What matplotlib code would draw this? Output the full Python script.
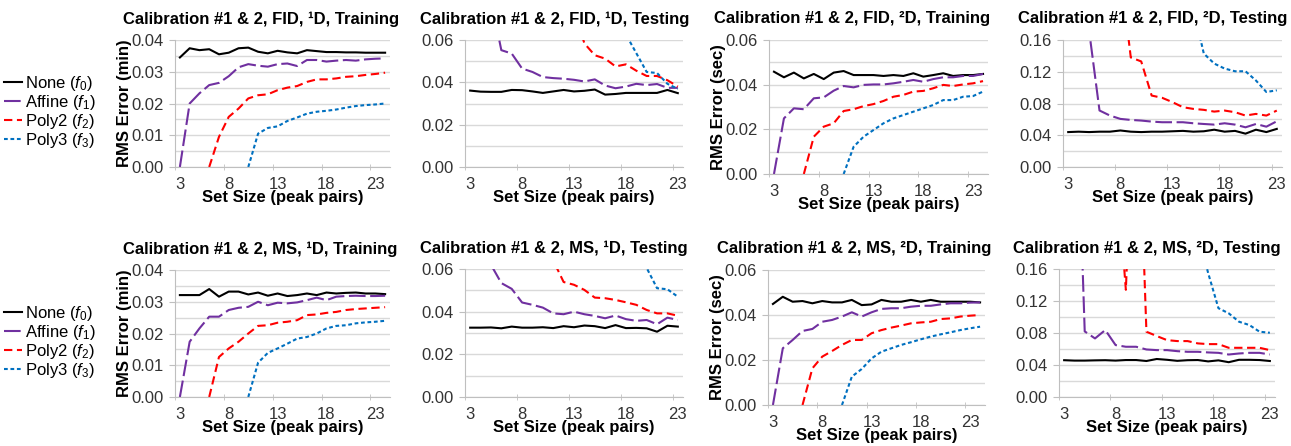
import numpy as np
import matplotlib
matplotlib.use('Agg')
import matplotlib.pyplot as plt
from matplotlib.lines import Line2D

plt.rcParams['font.family'] = ['Liberation Sans', 'DejaVu Sans']
plt.rcParams['mathtext.fontset'] = 'custom'
plt.rcParams['mathtext.rm'] = 'Liberation Sans'
plt.rcParams['mathtext.it'] = 'Liberation Sans:italic'
plt.rcParams['mathtext.bf'] = 'Liberation Sans:bold'

nan = np.nan

# set sizes (peak pairs)
x_train = list(range(3, 25))
x_test = list(range(3, 24))

# FID, 1D, training
fid1_train_none = [0.0345, 0.0374, 0.0368, 0.0371, 0.0355, 0.0360, 0.0374, 0.0376, 0.0363, 0.0358, 0.0366,
                   0.0361, 0.0358, 0.0368, 0.0365, 0.0362, 0.0362, 0.0361, 0.0361, 0.0360, 0.0360, 0.0360]
fid1_train_affine = [0.0, 0.0200, 0.0232, 0.0258, 0.0265, 0.0286, 0.0314, 0.0324, 0.0319, 0.0316, 0.0324,
                     0.0326, 0.0318, 0.0337, 0.0337, 0.0332, 0.0335, 0.0337, 0.0335, 0.0339, 0.0341, 0.0342]
fid1_train_poly2 = [nan, nan, nan, 0.0, 0.0095, 0.0158, 0.0184, 0.0216, 0.0226, 0.0229, 0.0242,
                    0.0250, 0.0255, 0.0268, 0.0276, 0.0276, 0.0279, 0.0284, 0.0286, 0.0290, 0.0293, 0.0297]
fid1_train_poly3 = [nan] * 7 + [0.0, 0.0105, 0.0123, 0.0128, 0.0145, 0.0156, 0.0168, 0.0174, 0.0177,
                                0.0181, 0.0187, 0.0192, 0.0195, 0.0197, 0.0200]

# FID, 1D, testing
fid1_test_none = [0.0361, 0.0356, 0.0355, 0.0355, 0.0364, 0.0363, 0.0357, 0.0350, 0.0357, 0.0364, 0.0357,
                  0.0360, 0.0366, 0.0342, 0.0345, 0.0350, 0.0350, 0.0350, 0.0350, 0.0364, 0.0349]
fid1_test_affine = [0.16, 0.11, 0.079, 0.0552, 0.0536, 0.0465, 0.0449, 0.0425, 0.0420, 0.0417, 0.0412,
                    0.0404, 0.0414, 0.0385, 0.0372, 0.0380, 0.0393, 0.0387, 0.0392, 0.0374, 0.0374]
fid1_test_poly2 = [nan, nan, nan, 0.3, 0.2, 0.15, 0.12, 0.10, 0.09, 0.082, 0.0744, 0.0584, 0.0528,
                   0.0512, 0.0475, 0.0485, 0.0455, 0.043, 0.043, 0.041, 0.038]
fid1_test_poly3 = [nan] * 7 + [0.4, 0.3, 0.22, 0.17, 0.13, 0.11, 0.09, 0.08, 0.0626, 0.0538, 0.0449,
                               0.0444, 0.0393, 0.0369]

# FID, 2D, training
fid2_train_none = [0.0458, 0.0433, 0.0454, 0.0428, 0.0448, 0.0425, 0.0454, 0.0461, 0.0443, 0.0443, 0.0443,
                   0.0439, 0.0443, 0.0439, 0.0451, 0.0436, 0.0443, 0.0451, 0.0439, 0.0443, 0.0443, 0.0448]
fid2_train_affine = [0.0, 0.0249, 0.0294, 0.0290, 0.0339, 0.0343, 0.0373, 0.0394, 0.0388, 0.0399, 0.0401,
                     0.0401, 0.0406, 0.0413, 0.0421, 0.0413, 0.0425, 0.0433, 0.0433, 0.0439, 0.0439, 0.0448]
fid2_train_poly2 = [nan, nan, nan, 0.0, 0.0167, 0.0212, 0.0227, 0.0282, 0.0290, 0.0304, 0.0313,
                    0.0327, 0.0346, 0.0354, 0.0369, 0.0372, 0.0384, 0.0399, 0.0394, 0.0401, 0.0406, 0.0416]
fid2_train_poly3 = [nan] * 7 + [0.0, 0.0122, 0.0167, 0.0197, 0.0227, 0.0249, 0.0264, 0.0279, 0.0294,
                                0.0309, 0.0331, 0.0331, 0.0346, 0.0349, 0.0369]

# FID, 2D, testing
fid2_test_none = [0.044, 0.0445, 0.044, 0.0445, 0.0445, 0.046, 0.0445, 0.044, 0.0445, 0.0445, 0.045,
                  0.0455, 0.0445, 0.045, 0.047, 0.0445, 0.0455, 0.042, 0.047, 0.044, 0.048]
fid2_test_affine = [0.5, 0.3, 0.172, 0.0712, 0.0648, 0.0606, 0.0593, 0.0585, 0.0572, 0.0564, 0.0564,
                    0.0564, 0.0551, 0.0542, 0.0534, 0.0551, 0.0534, 0.0500, 0.0542, 0.0508, 0.0576]
fid2_test_poly2 = [nan, nan, nan, 0.5, 0.35, 0.248, 0.138, 0.133, 0.090, 0.0872, 0.0817, 0.0753,
                   0.0732, 0.0720, 0.0698, 0.0711, 0.0690, 0.0648, 0.0669, 0.0648, 0.0711]
fid2_test_poly3 = [nan] * 7 + [0.6, 0.5, 0.4, 0.33, 0.28, 0.2, 0.143, 0.1303, 0.124, 0.1206, 0.1206,
                               0.109, 0.0945, 0.0966]

# MS, 1D, training
ms1_train_none = [0.0321, 0.0321, 0.0321, 0.0340, 0.0316, 0.0332, 0.0332, 0.0323, 0.0329, 0.0319, 0.0326,
                  0.0318, 0.0321, 0.0326, 0.0321, 0.0329, 0.0326, 0.0328, 0.0329, 0.0326, 0.0326, 0.0324]
ms1_train_affine = [0.0, 0.0174, 0.0216, 0.0253, 0.0253, 0.0274, 0.0281, 0.0284, 0.0300, 0.0289, 0.0297,
                    0.0295, 0.0298, 0.0305, 0.0313, 0.0305, 0.0316, 0.0318, 0.0319, 0.0318, 0.0318, 0.0319]
ms1_train_poly2 = [nan, nan, nan, 0.0, 0.0126, 0.0153, 0.0174, 0.0200, 0.0224, 0.0226, 0.0234,
                   0.0237, 0.0242, 0.0258, 0.0260, 0.0265, 0.0268, 0.0274, 0.0277, 0.0279, 0.0281, 0.0283]
ms1_train_poly3 = [nan] * 7 + [0.0, 0.0108, 0.0139, 0.0153, 0.0168, 0.0184, 0.0189, 0.0200, 0.0216,
                               0.0224, 0.0226, 0.0232, 0.0235, 0.0237, 0.0240]

# MS, 1D, testing
ms1_test_none = [0.0325, 0.0325, 0.0326, 0.0322, 0.0330, 0.0325, 0.0325, 0.0327, 0.0323, 0.0332, 0.0327,
                 0.0335, 0.0332, 0.0323, 0.0337, 0.0323, 0.0324, 0.0322, 0.0306, 0.0334, 0.0330]
ms1_test_affine = [0.09, 0.075, 0.062, 0.0534, 0.0507, 0.0443, 0.0432, 0.0419, 0.0392, 0.0388, 0.0400,
                   0.0388, 0.0380, 0.0369, 0.0382, 0.0365, 0.0357, 0.0361, 0.0341, 0.0372, 0.0361]
ms1_test_poly2 = [nan, nan, nan, 0.2, 0.15, 0.12, 0.1, 0.085, 0.064, 0.0539, 0.0526, 0.0502, 0.0466,
                  0.0463, 0.0455, 0.0444, 0.0432, 0.0408, 0.0392, 0.0392, 0.0381]
ms1_test_poly3 = [nan] * 7 + [0.3, 0.25, 0.2, 0.17, 0.14, 0.12, 0.1, 0.09, 0.08, 0.072, 0.0605,
                              0.051, 0.0505, 0.047]

# MS, 2D, training
ms2_train_none = [0.0449, 0.0481, 0.0459, 0.0462, 0.0452, 0.0462, 0.0456, 0.0456, 0.0467, 0.0444, 0.0447,
                  0.0467, 0.0459, 0.0459, 0.0467, 0.0459, 0.0467, 0.0459, 0.0459, 0.0459, 0.0459, 0.0456]
ms2_train_affine = [0.0, 0.0252, 0.0289, 0.0329, 0.0338, 0.0370, 0.0378, 0.0393, 0.0412, 0.0393, 0.0412,
                    0.0427, 0.0430, 0.0430, 0.0437, 0.0441, 0.0441, 0.0447, 0.0452, 0.0452, 0.0455, 0.0456]
ms2_train_poly2 = [nan, nan, nan, 0.0, 0.0163, 0.0215, 0.0240, 0.0267, 0.0289, 0.0289, 0.0319,
                   0.0333, 0.0344, 0.0353, 0.0363, 0.0367, 0.0370, 0.0382, 0.0385, 0.0393, 0.0397, 0.0400]
ms2_train_poly3 = [nan] * 7 + [0.0, 0.0126, 0.0160, 0.0207, 0.0237, 0.0252, 0.0267, 0.0279, 0.0292,
                               0.0304, 0.0314, 0.0323, 0.0333, 0.0341, 0.0348]

# MS, 2D, testing
ms2_test_none = [0.046, 0.0455, 0.0455, 0.0458, 0.046, 0.0455, 0.0462, 0.0462, 0.045, 0.0475, 0.0465,
                 0.0452, 0.046, 0.0462, 0.0445, 0.0458, 0.0435, 0.0465, 0.0465, 0.0462, 0.045]
ms2_test_affine = [1.0, 0.47, 0.082, 0.0732, 0.0837, 0.0649, 0.0628, 0.0628, 0.0594, 0.0586, 0.0586,
                   0.0573, 0.0565, 0.0565, 0.0557, 0.0552, 0.0531, 0.0544, 0.0552, 0.0552, 0.0531]
ms2_test_poly2 = [nan, nan, nan, 0.6, 0.45, 0.3, 0.134, 0.45, 0.0816, 0.0762, 0.0711, 0.0699, 0.0699,
                  0.067, 0.0661, 0.0661, 0.0615, 0.0615, 0.0615, 0.0615, 0.0586]
ms2_test_poly3 = [nan] * 7 + [0.6, 0.5, 0.4, 0.33, 0.28, 0.24, 0.205, 0.155, 0.111, 0.1046, 0.0941,
                              0.09, 0.0816, 0.0803]

series_names = ['None ($f_0$)', 'Affine ($f_1$)', 'Poly2 ($f_2$)', 'Poly3 ($f_3$)']
colors = ['black', '#7030A0', '#FF0000', '#0070C0']
dashes = [None, (8, 2.2), (4, 2.2), (1.8, 1.3)]

W, H = 1291, 446
fig = plt.figure(figsize=(W / 100, H / 100), dpi=100)

# (left, top, right, bottom) in pixels, title centre x, title, ylabel, x, data, ymax, ystep
panels = [
    ((175, 40, 390, 167), 261, 'Calibration #1 & 2, FID, \u00b9D, Training', 'RMS Error (min)', x_train,
     [fid1_train_none, fid1_train_affine, fid1_train_poly2, fid1_train_poly3], 0.04, 0.01),
    ((465, 40, 683, 167), 555, 'Calibration #1 & 2, FID, \u00b9D, Testing', None, x_test,
     [fid1_test_none, fid1_test_affine, fid1_test_poly2, fid1_test_poly3], 0.06, 0.02),
    ((769, 40, 988, 174), 852, 'Calibration #1 & 2, FID, \u00b2D, Training', 'RMS Error (sec)', x_train,
     [fid2_train_none, fid2_train_affine, fid2_train_poly2, fid2_train_poly3], 0.06, 0.02),
    ((1063, 40, 1282, 167), 1153, 'Calibration #1 & 2, FID, \u00b2D, Testing', None, x_test,
     [fid2_test_none, fid2_test_affine, fid2_test_poly2, fid2_test_poly3], 0.16, 0.04),
    ((175, 270, 390, 397), 260, 'Calibration #1 & 2, MS, \u00b9D, Training', 'RMS Error (min)', x_train,
     [ms1_train_none, ms1_train_affine, ms1_train_poly2, ms1_train_poly3], 0.04, 0.01),
    ((465, 269, 683, 397), 554, 'Calibration #1 & 2, MS, \u00b9D, Testing', None, x_test,
     [ms1_test_none, ms1_test_affine, ms1_test_poly2, ms1_test_poly3], 0.06, 0.02),
    ((768, 270, 985, 405), 854, 'Calibration #1 & 2, MS, \u00b2D, Training', 'RMS Error (sec)', x_train,
     [ms2_train_none, ms2_train_affine, ms2_train_poly2, ms2_train_poly3], 0.06, 0.02),
    ((1059, 269, 1275, 397), 1147, 'Calibration #1 & 2, MS, \u00b2D, Testing', None, x_test,
     [ms2_test_none, ms2_test_affine, ms2_test_poly2, ms2_test_poly3], 0.16, 0.04),
]

for (l, t, r, b), tx, title, ylab, xs, ys, ymax, ystep in panels:
    ax = fig.add_axes([l / W, 1 - b / H, (r - l) / W, (b - t) / H])
    for y, c, d in zip(ys, colors, dashes):
        line, = ax.plot(xs, y, color=c, lw=1.5)
        if d is not None:
            line.set_dashes(d)
    ax.set_xlim(xs[0] - 0.5, xs[-1] + 0.5)
    ax.set_ylim(0, ymax)
    ax.set_xticks([3, 8, 13, 18, 23])
    ax.set_xticks(np.arange(2.5, xs[-1] + 0.6, 5), minor=True)
    ax.set_yticks(np.arange(0, ymax + 1e-9, ystep))
    ax.set_yticks(np.arange(0, ymax + 1e-9, ystep / 2), minor=True)
    ax.yaxis.set_major_formatter(plt.FormatStrFormatter('%.2f'))
    ax.grid(True, which='both', axis='y', color='#D9D9D9', lw=1)
    ax.set_axisbelow(True)
    for s in ['top', 'right']:
        ax.spines[s].set_visible(False)
    for s in ['left', 'bottom']:
        ax.spines[s].set_color('#BFBFBF')
    ax.tick_params(axis='x', which='major', length=0, labelsize=12, pad=7, labelcolor='#333333')
    ax.tick_params(axis='x', which='minor', length=4, color='#BFBFBF', direction='inout')
    ax.tick_params(axis='y', which='major', length=4, color='#BFBFBF', labelsize=12, pad=4,
                   labelcolor='#333333')
    ax.tick_params(axis='y', which='minor', length=0)
    ax.set_xlabel('Set Size (peak pairs)', fontsize=12, fontweight='bold', labelpad=-1)
    if ylab:
        ax.set_ylabel(ylab, fontsize=12, fontweight='bold', labelpad=0)
    fig.text(tx / W, 1 - (t - 21) / H, title, fontsize=12, fontweight='bold', ha='center', va='center')

handles = [Line2D([0], [0], color=c, lw=1.5) for c in colors]
for h, d in zip(handles, dashes):
    if d is not None:
        h.set_dashes(d)

for ytop in [74, 304]:
    fig.legend(handles, series_names, loc='upper left', bbox_to_anchor=(4 / W, 1 - ytop / H),
               frameon=False, fontsize=12, handlelength=1.1, handletextpad=0.15,
               labelspacing=0.0, borderpad=0, borderaxespad=0)

fig.savefig('out.png', dpi=100)
